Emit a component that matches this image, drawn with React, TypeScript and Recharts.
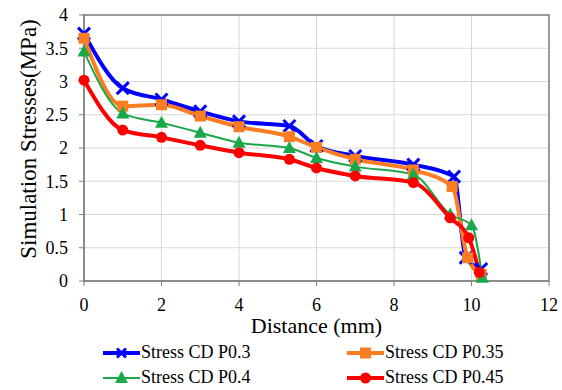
import React from 'react';
import {
  LineChart,
  Line,
  XAxis,
  YAxis,
  CartesianGrid,
  ReferenceArea,
} from 'recharts';

// values
const xP030 = [0, 1, 2, 3, 4, 5.3, 6, 7, 8.5, 9.55, 9.85, 10.25];
const yP030 = [3.72, 2.9, 2.73, 2.55, 2.4, 2.33, 2.03, 1.88, 1.75, 1.57, 0.35, 0.18];

const xP035 = [0, 1, 2, 3, 4, 5.3, 6, 7, 8.5, 9.5, 9.9, 10.25];
const yP035 = [3.65, 2.63, 2.65, 2.48, 2.32, 2.17, 2.01, 1.83, 1.67, 1.42, 0.35, 0.1];

const xP040 = [0, 1, 2, 3, 4, 5.3, 6, 7, 8.5, 9.45, 10, 10.28];
const yP040 = [3.45, 2.52, 2.38, 2.23, 2.08, 2.0, 1.85, 1.72, 1.6, 1.0, 0.84, 0.05];

const xP045 = [0, 1, 2, 3, 4, 5.3, 6, 7, 8.5, 9.45, 9.93, 10.2];
const yP045 = [3.02, 2.27, 2.16, 2.04, 1.93, 1.83, 1.7, 1.58, 1.48, 0.95, 0.65, 0.13];

const xTicks = [0, 2, 4, 6, 8, 10, 12];
const yTicks = [0, 0.5, 1, 1.5, 2, 2.5, 3, 3.5, 4];

const toRows = (xs: number[], ys: number[]) => xs.map((x, i) => ({ x, y: ys[i] }));

const FONT = "'Liberation Serif', 'DejaVu Serif', serif";

const CrossDot = (props: any) => {
  const { cx, cy, stroke, size = 6 } = props;
  if (cx == null || cy == null) return null;
  const s = size;
  return (
    <g>
      <line x1={cx - s} y1={cy - s} x2={cx + s} y2={cy + s} stroke={stroke} strokeWidth={3} />
      <line x1={cx - s} y1={cy + s} x2={cx + s} y2={cy - s} stroke={stroke} strokeWidth={3} />
    </g>
  );
};

const SquareDot = (props: any) => {
  const { cx, cy, fill } = props;
  if (cx == null || cy == null) return null;
  return <rect x={cx - 5.5} y={cy - 5.5} width={11} height={11} fill={fill} />;
};

const TriangleDot = (props: any) => {
  const { cx, cy, fill } = props;
  if (cx == null || cy == null) return null;
  return <polygon points={`${cx},${cy - 7} ${cx - 6.5},${cy + 5} ${cx + 6.5},${cy + 5}`} fill={fill} />;
};

const CircleDot = (props: any) => {
  const { cx, cy, fill } = props;
  if (cx == null || cy == null) return null;
  return <circle cx={cx} cy={cy} r={5.5} fill={fill} />;
};

const series = [
  { name: 'Stress CD P0.3', color: '#0000ff', width: 4, xs: xP030, ys: yP030, Dot: CrossDot },
  { name: 'Stress CD P0.35', color: '#fb7d22', width: 4, xs: xP035, ys: yP035, Dot: SquareDot },
  { name: 'Stress CD P0.4', color: '#1aa84b', width: 2, xs: xP040, ys: yP040, Dot: TriangleDot },
  { name: 'Stress CD P0.45', color: '#ff0000', width: 4, xs: xP045, ys: yP045, Dot: CircleDot },
];

const LegendIcon = ({ s }: { s: (typeof series)[number] }) => (
  <svg width={37} height={16} style={{ marginRight: 1, flexShrink: 0 }}>
    <line x1={0} y1={8} x2={37} y2={8} stroke={s.color} strokeWidth={s.width} />
    <s.Dot cx={18.5} cy={8} stroke={s.color} fill={s.color} size={4.5} />
  </svg>
);

const ChartLegend = () => (
  <div
    style={{
      position: 'absolute',
      left: 103,
      top: 340,
      display: 'grid',
      gridTemplateColumns: '244px 200px',
      fontFamily: FONT,
      fontSize: 18,
      lineHeight: '25px',
      color: '#000',
    }}
  >
    {series.map((s) => (
      <div key={s.name} style={{ display: 'flex', alignItems: 'center', height: 25 }}>
        <LegendIcon s={s} />
        <span>{s.name}</span>
      </div>
    ))}
  </div>
);

export default function App() {
  return (
    <div style={{ position: 'absolute', left: 0, top: 0, width: 562, height: 390, background: '#fff', fontFamily: FONT }}>
      <LineChart
        width={562}
        height={390}
        margin={{ top: 15, right: 13, left: 24, bottom: 79 }}
        style={{ fontFamily: FONT }}
      >
        <CartesianGrid stroke="#d9d9d9" strokeWidth={1} />
        <XAxis
          type="number"
          dataKey="x"
          domain={[0, 12]}
          ticks={xTicks}
          allowDuplicatedCategory={false}
          stroke="#7f7f7f"
          tick={{ fill: '#000', fontSize: 18, fontFamily: FONT }}
          tickSize={5}
          tickMargin={12}
          height={30}
          label={(props: any) => {
            const vb = props.viewBox || { x: 84, y: 281, width: 465 };
            return (
              <text
                x={vb.x + vb.width / 2}
                y={vb.y + 52}
                textAnchor="middle"
                fill="#000"
                fontSize={22}
                fontFamily={FONT}
              >
                Distance (mm)
              </text>
            );
          }}
        />
        <YAxis
          type="number"
          domain={[0, 4]}
          ticks={yTicks}
          stroke="#7f7f7f"
          tick={{ fill: '#000', fontSize: 18, fontFamily: FONT }}
          tickSize={5}
          tickMargin={11}
          width={60}
          label={() => (
            <text
              x={28}
              y={139}
              transform="rotate(-90 28 139)"
              textAnchor="middle"
              dominantBaseline="central"
              fill="#000"
              fontSize={23}
              fontFamily={FONT}
            >
              {'Simulation  Stresses(MPa)'}
            </text>
          )}
        />
        <ReferenceArea x1={0} x2={12} y1={0} y2={4} fill="none" stroke="#7f7f7f" strokeWidth={1.5} />
        {series.map((s) => (
          <Line
            key={s.name}
            data={toRows(s.xs, s.ys)}
            dataKey="y"
            name={s.name}
            type="monotone"
            stroke={s.color}
            strokeWidth={s.width}
            dot={<s.Dot stroke={s.color} fill={s.color} />}
            activeDot={false}
            isAnimationActive={false}
          />
        ))}
      </LineChart>
      <ChartLegend />
    </div>
  );
}
